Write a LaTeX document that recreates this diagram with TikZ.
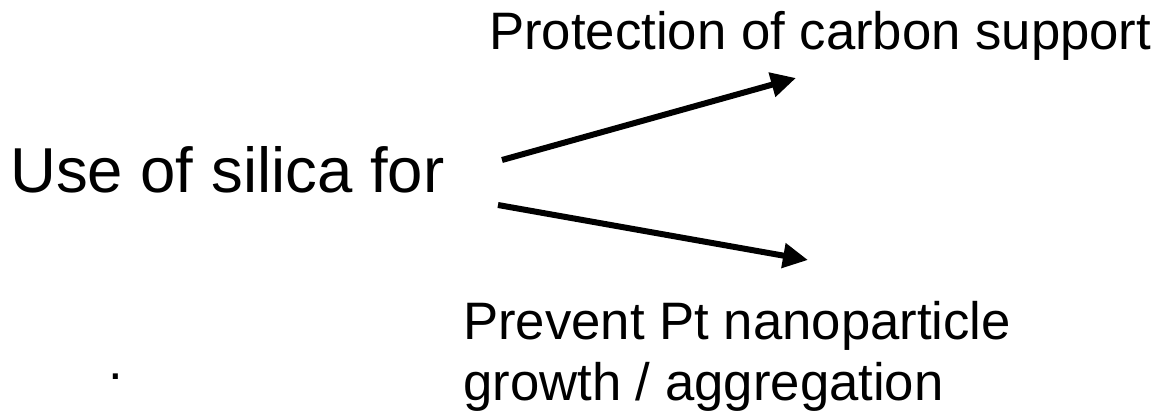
\documentclass[tikz,border=0pt]{standalone}
\usepackage{fontspec}
\setmainfont{Liberation Sans}
\usetikzlibrary{arrows.meta}
\tikzset{
  big/.style={inner sep=0pt, anchor=base west, font=\fontsize{63.5}{73}\selectfont},
  small/.style={inner sep=0pt, anchor=base west, font=\fontsize{52.7}{61}\selectfont},
  arr/.style={line width=6pt, -{Triangle[length=25pt,width=24pt]}}
}
\begin{document}
\begin{tikzpicture}[x=1pt,y=-1pt]
\useasboundingbox (0,0) rectangle (1163,414);
\node[big] (use) at (10,193) {Use of silica for};
\node[small] (prot) at (489,50) {Protection of carbon support};
\node[small, align=left] (prev) at (463,400) {Prevent Pt nanoparticle\\growth / aggregation};
\node[small] (dot) at (108,379) {.};
\coordinate (s1) at (502,160);
\coordinate (e1) at (796,78);
\coordinate (s2) at (498,205);
\coordinate (e2) at (808,260);
\draw[arr] (s1) -- (e1);
\draw[arr] (s2) -- (e2);
\end{tikzpicture}
\end{document}
